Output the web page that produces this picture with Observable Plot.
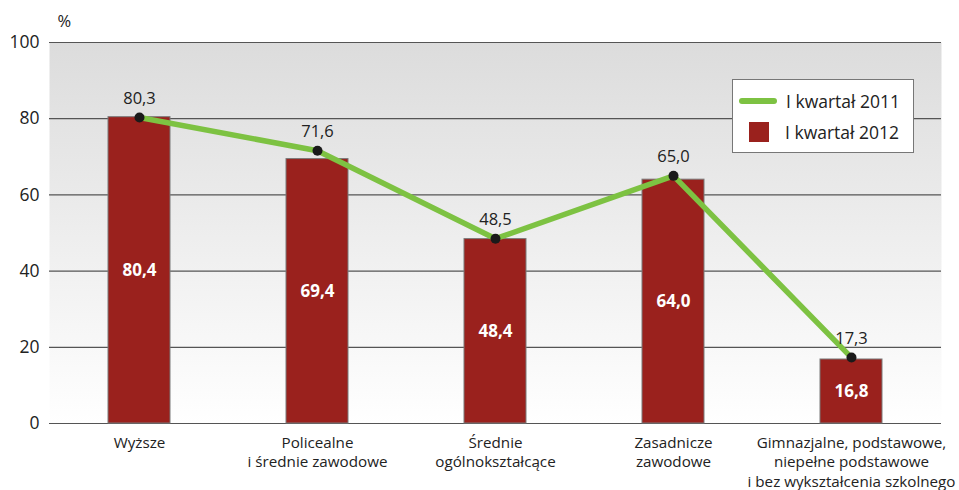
<!DOCTYPE html>
<html><head><meta charset="utf-8">
<script src="https://cdn.jsdelivr.net/npm/d3@7"></script>
<script src="https://cdn.jsdelivr.net/npm/@observablehq/plot@0.6"></script>
<style>
body{margin:0;background:#fff;font-family:"Open Sans",sans-serif;}
#wrap{position:relative;width:959px;height:490px;}
#legend{position:absolute;left:732px;top:79px;width:182px;height:74px;background:#fff;border:1px solid #777;box-sizing:border-box;font-size:17.5px;color:#222;}
#legend .row{position:absolute;left:0;display:flex;align-items:center;}
</style></head>
<body><div id="wrap"></div>
<script>
const categories = ["Wyższe","Policealne\ni średnie zawodowe","Średnie\nogólnokształcące","Zasadnicze\nzawodowe","Gimnazjalne, podstawowe,\nniepełne podstawowe\ni bez wykształcenia szkolnego"];
const values2011 = [80.3, 71.6, 48.5, 65.0, 17.3];
const values2012 = [80.4, 69.4, 48.4, 64.0, 16.8];
const yTicks = [0,20,40,60,80,100];
const seriesNames = ["I kwartał 2011","I kwartał 2012"];

const fmt = v => v.toFixed(1).replace(".", ",");
const data = categories.map((c,i)=>({cat:c, v11:values2011[i], v12:values2012[i]}));

const chart = Plot.plot({
  width: 959, height: 490,
  marginLeft: 49, marginRight: 18, marginTop: 42, marginBottom: 67,
  style: {fontFamily: '"Open Sans", sans-serif', background: "transparent"},
  x: {domain: categories, paddingInner: 0.65, paddingOuter: 0.325, label: null},
  y: {domain: [0,100], label: null},
  marks: [
    Plot.frame({fill: "url(#bgGrad)", stroke: "none"}),
    Plot.ruleY(yTicks, {stroke: "#555", strokeWidth: 1.2}),
    Plot.axisY({ticks: yTicks, tickSize: 0, tickPadding: 10, fontSize: 17.5, fill: "#222", label: null}),
    Plot.axisX({tickSize: 0, tickPadding: 10, fontSize: 15.2, lineHeight: 1.3, fill: "#222", label: null}),
    Plot.barY(data, {x: "cat", y: "v12", fill: "#9a211d", stroke: "#7a7a7a", strokeWidth: 1}),
    Plot.text(data, {x: "cat", y: d => d.v12/2, text: d => fmt(d.v12), fill: "white", fontWeight: "bold", fontSize: 17}),
    Plot.line(data, {x: "cat", y: "v11", stroke: "#7dc242", strokeWidth: 5.5}),
    Plot.dot(data, {x: "cat", y: "v11", r: 5, fill: "#1a1a1a"}),
    Plot.text(data, {x: "cat", y: "v11", text: d => fmt(d.v11), dy: -19, fontSize: 16.5, fill: "#222"}),
    Plot.text(["%"], {frameAnchor: "top-left", dx: 8, dy: -27, fontSize: 16.5, fill: "#222", textAnchor: "start"})
  ]
});
const svg = d3.select(chart);
const defs = svg.insert("defs", ":first-child");
const g = defs.append("linearGradient").attr("id","bgGrad").attr("x1",0).attr("y1",0).attr("x2",0).attr("y2",1);
g.append("stop").attr("offset","0%").attr("stop-color","#dcdcdc");
g.append("stop").attr("offset","100%").attr("stop-color","#ffffff");

const wrap = document.getElementById("wrap");
wrap.appendChild(chart);
const lg = document.createElement("div");
lg.id = "legend";
lg.innerHTML = `
<div class="row" style="top:9px;left:6px"><span style="display:inline-block;width:38px;height:6px;border-radius:3px;background:#7dc242;margin-right:9px"></span>${seriesNames[0]}</div>
<div class="row" style="top:40px;left:16px"><span style="display:inline-block;width:20px;height:20px;background:#9a211d;margin-right:16px"></span>${seriesNames[1]}</div>`;
wrap.appendChild(lg);
</script></body></html>
